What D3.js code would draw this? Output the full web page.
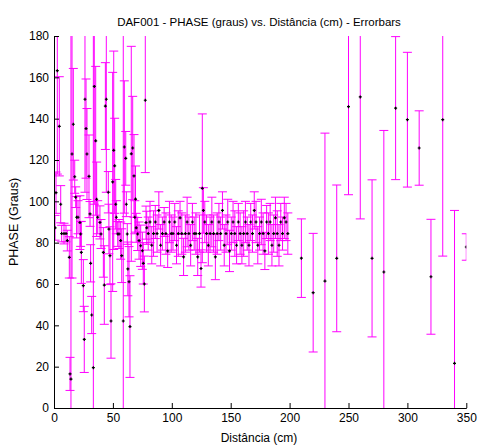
<!DOCTYPE html>
<html><head><meta charset="utf-8">
<script src="https://cdn.jsdelivr.net/npm/d3@7"></script>
<style>body{margin:0;background:#fff}svg{display:block}text{font-family:"Liberation Sans",Arial,sans-serif}</style>
</head><body><svg id="c" width="478" height="446"></svg>
<script>
// Distância (cm)
const distancia = [
 0.9,1.7,2.8,4.5,5.7,6.5,8.5,10.2,11.3,13.0,13.6,14.4,15.3,16.4,17.6,18.4,19.2,20.4,22.0,22.6,
 23.2,24.9,25.7,26.3,27.2,28.0,29.7,30.6,31.1,32.0,33.4,34.2,35.4,36.2,37.1,39.0,39.9,41.9,42.7,43.6,
 44.4,46.1,46.6,47.5,48.4,49.8,50.7,51.5,52.4,52.9,54.1,55.2,56.6,57.5,58.8,59.7,60.9,61.4,62.2,62.7,
 63.7,64.5,65.6,66.8,67.9,68.6,69.2,69.8,71.0,72.2,73.6,75.0,75.8,76.7,77.5,78.1,78.7,
 80,81.5,83,84.5,86,87.5,89,90.5,92,93.5,95,96.5,98,99.5,101,102.5,104,105.5,107,108.5,
 110,111.5,113,114.5,116,117.5,119,120.5,122,123.5,124.8,125.9,126.8,128,129.5,131,132.5,134,135.5,137,
 138.5,140,141.5,143,144.5,146,147.5,149,150.5,152,153.5,155,156.5,158,159.5,161,162.5,164,165.5,167,
 168.5,170,171.5,173,174.5,176,177.5,179,180.5,182,183.5,185,186.5,188,189.5,191,192.5,194,195.5,197,198.5,
 210,220,230,240,250,260,270,280,290,300,310,320,330,340,350
];
// PHASE (graus) - média
const phase = [
 87.2,104.2,163.2,136.3,98.6,84.4,84.4,84.4,81.0,72.9,16.5,14.0,122.9,137.3,111.9,102.0,92.3,92.3,89.7,84.2,
 75.3,59.2,33.2,149.4,135.2,122.9,112.1,93.9,70.0,45.0,19.5,155.6,129.3,101.0,92.3,89.8,84.2,75.3,59.5,146.1,
 149.4,104.4,86.6,73.7,42.1,109.4,124.7,117.2,98.6,92.3,84.2,84.2,81.0,73.7,42.1,126.3,120.8,98.6,84.2,67.3,
 61.1,39.4,123.0,125.8,112.3,92.3,101.1,87.2,84.2,81.0,78.5,76.1,70.0,60.0,148.9,89.7,87.2,
 84.4,90.0,78.75,84.4,90.0,84.4,95.6,78.75,84.4,90.0,84.4,76.0,90.0,84.4,84.4,90.0,78.75,84.4,92.0,84.4,
 73.1,84.4,90.0,84.4,78.75,90.0,84.4,84.4,73.1,84.4,67.5,106.3,95.6,90.0,84.4,78.75,84.4,90.0,84.4,73.1,
 84.4,90.0,84.4,95.6,78.75,84.4,90.0,76.0,84.4,90.0,84.4,78.75,90.0,84.4,78.75,84.4,90.0,84.4,78.75,90.0,
 84.4,95.6,90.0,78.75,84.4,90.0,84.4,76.0,90.0,84.4,90.0,78.75,84.4,92.0,84.4,78.75,90.0,84.4,92.0,90.0,84.4,
 72.5,55.8,61.4,72.4,145.8,150.5,72.4,65.8,145.1,139.5,125.8,63.5,139.5,21.6,77.9
];
// erro (± graus)
const erro = [
 6,10,50,24,9,4,5,4,5,10,8,170,60,27,8,5,10,8,13,6,
 15,12.6,16,45,24,22,20,6,9,9,165,57,36,18,8,8,7,12,19,21,
 45,10,12,14,18,53,48,23,12,8,6,7,9,13,140,32,13,6,5,13,
 17,24.6,52,25,20,8,16,7,8,9,10,9,10,13.5,35,8,8,
 8,10,9,11,8,9,9,10,8,7,10,8,10,9,8,9,9,11,8,10,
 9,9,12,8,10,9,8,10,9,9,9,36,11,10,9,10,8,12,9,11,
 10,9,8,9,10,9,11,10,8,10,11,9,9,10,9,11,10,8,10,9,
 9,9,10,9,8,11,10,9,8,10,9,10,9,10,11,10,9,8,10,9,10,
 19,28.7,71.6,35.5,42.6,59,38,68.5,34.6,32.6,18,27.8,66,74,6.4
];
const xTicks = [0,50,100,150,200,250,300,350];
const yTicks = [0,20,40,60,80,100,120,140,160,180];
const titulo = "DAF001 - PHASE (graus) vs. Distância (cm) - Errorbars";
const xLabel = "Distância (cm)";
const yLabel = "PHASE (Graus)";

const data = distancia.map((d,i)=>({d, v: phase[i], e: erro[i]}));
const svg = d3.select("#c");
const L=54, R=466.3, T=36, B=408;
const x = d3.scaleLinear().domain([0,350]).range([L,R]);
const y = d3.scaleLinear().domain([0,180]).range([B,T]);

svg.append("clipPath").attr("id","clip").append("rect")
  .attr("x",L).attr("y",T).attr("width",R-L).attr("height",B-T);

const g = svg.append("g").attr("clip-path","url(#clip)");
const mag = "#ff00ff", cap = 4.5;
const eb = g.selectAll("g.eb").data(data).join("g").attr("class","eb")
  .attr("stroke",mag).attr("stroke-width",1).attr("fill","none");
eb.append("line").attr("x1",d=>x(d.d)).attr("x2",d=>x(d.d))
  .attr("y1",d=>y(d.v-d.e)).attr("y2",d=>y(d.v+d.e));
eb.append("line").attr("x1",d=>x(d.d)-cap).attr("x2",d=>x(d.d)+cap)
  .attr("y1",d=>y(d.v+d.e)).attr("y2",d=>y(d.v+d.e));
eb.append("line").attr("x1",d=>x(d.d)-cap).attr("x2",d=>x(d.d)+cap)
  .attr("y1",d=>y(d.v-d.e)).attr("y2",d=>y(d.v-d.e));

g.selectAll("path.pt").data(data).join("path").attr("class","pt")
  .attr("transform",d=>`translate(${x(d.d)},${y(d.v)})`)
  .attr("d","M-1.5,0H1.5M0,-1.5V1.5").attr("stroke","#000").attr("stroke-width",1.2);

const ax = svg.append("g").attr("transform",`translate(0,${B})`)
  .call(d3.axisBottom(x).tickValues(xTicks).tickSizeInner(-5).tickSizeOuter(0).tickPadding(5));
const ay = svg.append("g").attr("transform",`translate(${L},0)`)
  .call(d3.axisLeft(y).tickValues(yTicks).tickSizeInner(-5).tickSizeOuter(0).tickPadding(5));
[ax,ay].forEach(a=>{
  a.selectAll("text").attr("font-size",12).attr("font-family","Liberation Sans, Arial, sans-serif").attr("fill","#000");
  a.selectAll("path,line").attr("stroke","#000");
});

svg.append("text").attr("x",259).attr("y",26).attr("text-anchor","middle")
  .attr("font-size",11.5).text(titulo);
svg.append("text").attr("x",259).attr("y",442).attr("text-anchor","middle")
  .attr("font-size",12).text(xLabel);
svg.append("text").attr("transform","translate(18,222) rotate(-90)").attr("text-anchor","middle")
  .attr("font-size",12.5).text(yLabel);
</script></body></html>
